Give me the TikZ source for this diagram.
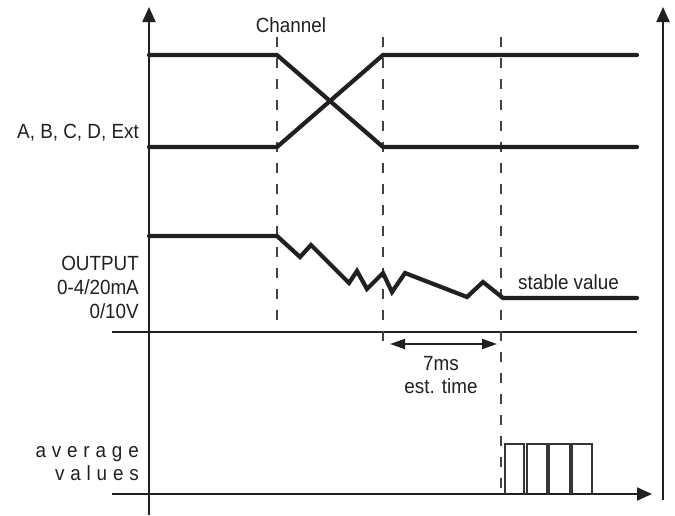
\documentclass[tikz,border=0pt]{standalone}
\usepackage{fontspec}
\setmainfont[FakeStretch=0.92]{Liberation Sans}
\usetikzlibrary{arrows.meta}
\definecolor{ink}{HTML}{231F20}
\begin{document}
\begin{tikzpicture}[x=1pt,y=-1pt,
  sig/.style={draw=ink, line width=4.2pt, line cap=round, line join=miter},
  axisline/.style={draw=ink, line width=2pt},
  guide/.style={draw=ink!85, line width=1.2pt, dash pattern=on 10pt off 11pt},
  pulse/.style={draw=ink!90, line width=1.7pt},
  lbl/.style={font=\fontsize{20.5}{25}\selectfont, text=ink, inner sep=0pt},
  spaced/.style={font=\fontsize{20.5}{25}\selectfont\addfontfeature{LetterSpace=3}},
  bigtip/.style={-{Triangle[length=15pt,width=13pt]}},
  dimtip/.style={{Triangle[length=15pt,width=10pt]}-{Triangle[length=15pt,width=10pt]}}]
\useasboundingbox (0,0) rectangle (675,515);
% axes
\coordinate (lb) at (149,515); \coordinate (lt) at (149,7);
\coordinate (rb) at (663,500); \coordinate (rt) at (663,7);
\coordinate (hb) at (112,494); \coordinate (he) at (652,494);
\coordinate (ml) at (112,332); \coordinate (mr) at (637,332);
\draw[axisline, bigtip] (lb) -- (lt);
\draw[axisline, bigtip] (rb) -- (rt);
\draw[axisline, bigtip] (hb) -- (he);
\draw[axisline] (ml) -- (mr);
% guides
\coordinate (g1t) at (277,37); \coordinate (g1b) at (277,325);
\coordinate (g2t) at (383,37); \coordinate (g2b) at (383,346);
\coordinate (g3t) at (501,37); \coordinate (g3b) at (501,494);
\draw[guide] (g1t) -- (g1b);
\draw[guide] (g2t) -- (g2b);
\draw[guide] (g3t) -- (g3b);
% channel signals
\draw[sig] (149,55) -- (277,55) -- (383,147) -- (637,147);
\draw[sig] (149,147) -- (277,147) -- (383,55) -- (637,55);
% output
\draw[sig] (149,236) -- (277,236) -- (300,257) -- (311,245) -- (349,283) -- (357,271) -- (367,289)
  -- (383,273) -- (392,292) -- (405,273) -- (467,297) -- (483,282) -- (503,298) -- (637,298);
% 7ms dimension
\coordinate (d1) at (390,344); \coordinate (d2) at (497,344);
\draw[axisline, dimtip] (d1) -- (d2);
% pulses
\foreach \a/\b in {505/524, 527/547, 549/570, 572/592}
  \draw[pulse] (\a,494) -- (\a,444) -- (\b,444) -- (\b,494);
% labels
\node[lbl, anchor=base] (chan) at (291,32) {Channel};
\node[lbl, anchor=base east] (abcd) at (139,138) {A, B, C, D, Ext};
\node[lbl, anchor=base east] (out1) at (139,270) {OUTPUT};
\node[lbl, anchor=base east] (out2) at (139,294.5) {0-4/20mA};
\node[lbl, anchor=base east] (out3) at (139,318.5) {0/10V};
\node[lbl, anchor=base west] (stab) at (518,289) {stable value};
\node[lbl, anchor=base] (ms) at (441,370) {7ms};
\node[lbl, anchor=base] (est) at (441,393) {est. time};
\node[lbl, spaced, anchor=base east] (avg1) at (139,457) {a v e r a g e};
\node[lbl, spaced, anchor=base east] (avg2) at (139,480) {v a l u e s};
\end{tikzpicture}
\end{document}
